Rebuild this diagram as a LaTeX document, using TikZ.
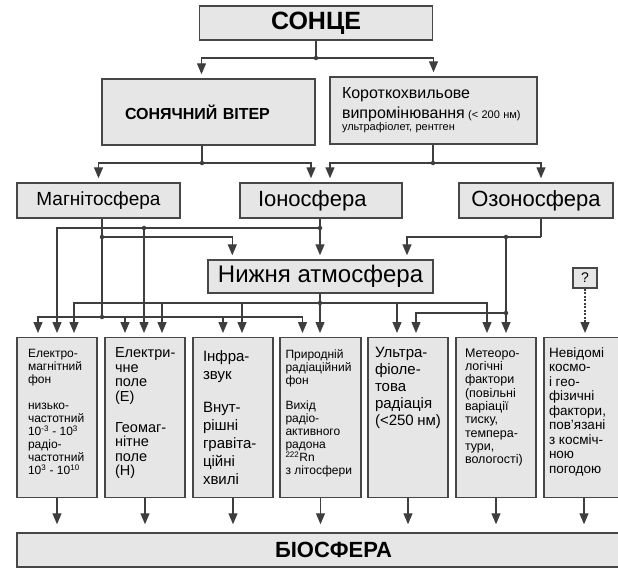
\documentclass[tikz,border=0pt]{standalone}
\usepackage{fontspec}
\setmainfont{Liberation Sans}
\usetikzlibrary{arrows.meta,positioning}
\definecolor{boxgray}{RGB}{230,230,230}
\definecolor{wiregray}{RGB}{62,62,62}
\newcommand{\coltext}[5]{\parbox[c][150pt][t]{#1}{\fontsize{#2}{#3}\selectfont\raggedright\hyphenpenalty=10000\exhyphenpenalty=10000\vspace*{#4}#5}}

\begin{document}
\begin{tikzpicture}[x=1pt,y=-1pt]
\tikzstyle{main}=[rectangle, draw=black!72, fill=boxgray, line width=1.4pt, inner sep=0pt]
\tikzstyle{col}=[main, minimum width=80pt, minimum height=160pt, anchor=north]
\tikzstyle{wire}=[draw=wiregray, line width=1.3pt]
\tikzstyle{arr}=[wire, -{Triangle[width=9pt,length=11pt]}, shorten >=4pt]
\tikzstyle{dot}=[circle, fill=wiregray, inner sep=0pt, minimum size=4.5pt]
\useasboundingbox (0,0) rectangle (618,569);

\node[main, minimum width=233pt, minimum height=34pt, font=\fontsize{25}{25}\selectfont\bfseries] (sun) at (316,23) {СОНЦЕ};
\node[main, minimum width=213pt, minimum height=66pt, text width=167pt, align=left, font=\fontsize{16}{16}\selectfont\bfseries] (wind) at (208.5,112) {СОНЯЧНИЙ ВІТЕР};
\node[main, minimum width=207pt, minimum height=67pt, text width=183pt, align=left] (wave) at (433.5,110.5)
    {\fontsize{16}{20}\selectfont Короткохвильове\\випромінювання {\fontsize{11}{11}\selectfont (< 200 нм)}\\{\fontsize{11}{15}\selectfont ультрафіолет, рентген}};

\node[main, minimum width=163pt, minimum height=35pt, font=\fontsize{19}{19}\selectfont] (mag) at (98.5,200.5) {Магнітосфера};
\node[main, minimum width=162pt, minimum height=35pt, text width=126pt, align=left, font=\fontsize{22}{22}\selectfont] (iono) at (321,200.5) {Іоносфера};
\node[main, minimum width=154pt, minimum height=35pt, font=\fontsize{22}{22}\selectfont] (ozono) at (536,200.5) {Озоносфера};
\node[main, minimum width=225pt, minimum height=33pt, font=\fontsize{24}{24}\selectfont] (lower) at (320.5,276.5) {Нижня атмосфера};
\node[main, minimum width=24pt, minimum height=20pt, line width=1.2pt, font=\fontsize{14}{14}\selectfont] (q) at (585,278) {?};

\node[col] (f1) at (57,337) {\coltext{58pt}{12}{13}{7pt}{Електро-\\магнітний\\фон\\[13pt]низько-\\частотний\\10\textsuperscript{-3} - 10\textsuperscript{3}\\радіо-\\частотний\\10\textsuperscript{3} - 10\textsuperscript{10}}};
\node[col] (f2) at (145,337) {\coltext{60pt}{14.5}{14.5}{5pt}{Електри-\\чне\\поле\\(E)\\[16.5pt]Геомаг-\\нітне\\поле\\(H)}};
\node[col] (f3) at (233,337) {\coltext{60pt}{15}{18}{8pt}{Інфра-\\звук\\[15pt]Внут-\\рішні\\гравіта-\\ційні\\хвилі}};
\node[col, minimum width=81pt] (f4) at (320.5,337) {\coltext{70pt}{12}{13}{7pt}{Природній\\радіаційний\\фон\\[12pt]Вихід\\радіо-\\активного\\радона\\\textsuperscript{222}Rn\\з літосфери}};
\node[col] (f5) at (408,337) {\coltext{66pt}{15}{17}{4pt}{Ультра-\\фіоле-\\това\\радіація\\(<250~нм)}};
\node[col] (f6) at (496,337) {\coltext{62pt}{12.5}{13.3}{6pt}{Метеоро-\\логічні\\фактори\\(повільні\\варіації\\тиску,\\темпера-\\тури,\\вологості)}};
\node[col] (f7) at (584,337) {\coltext{70pt}{13.5}{14.5}{5pt}{Невідомі\\космо-\\і гео-\\фізичні\\фактори,\\пов’язані\\з косміч-\\ною\\погодою}};

\node[main, minimum width=633pt, minimum height=34pt, font=\fontsize{22}{22}\selectfont\bfseries] (bio) at (333.5,550) {БІОСФЕРА};

% junctions
\coordinate (sj) at (316,58);
\coordinate (wj) at (202,163);
\coordinate (vj) at (433,163);
\coordinate (ij) at (320,228);
\coordinate (ij2) at (144,228);
\coordinate (mj) at (102,237);
\coordinate (mj2) at (102,317);
\coordinate (oj) at (541,237);
\coordinate (oj2) at (506,237);
\coordinate (oj3) at (506,313);
\coordinate (lj) at (320,303);
\coordinate (m2) at ([xshift=-20pt]f2.north);
\coordinate (m3) at ([xshift=-10pt]f3.north);
\coordinate (l2) at ([xshift=17pt]f2.north);
\coordinate (l3) at ([xshift=9pt]f3.north);
\coordinate (l5) at ([xshift=-11pt]f5.north);

\draw[wire] (sun) -- (sj);
\draw[arr] (sj) -| ([xshift=-7pt]wind.north);
\draw[arr] (sj) -| (wave);

\draw[wire] (wind.south -| wj) -- (wj);
\draw[arr] (wj) -| (mag);
\draw[arr] (wj) -| ([xshift=-10pt]iono.north);
\draw[wire] (wave.south -| vj) -- (vj);
\draw[arr] (vj) -| ([xshift=9pt]iono.north);
\draw[arr] (vj) -| ([xshift=5pt]ozono.north);

\draw[wire] (mag.south -| mj) -- (mj2);
\draw[arr] (mj) -| ([xshift=25pt]lower.north west);
\draw[arr] (mj2) -| ([xshift=-19pt]f1.north);
\draw[arr] (mj2) -| ([xshift=-18pt]f4.north);
\foreach \c in {m2,m3}
    \draw[arr] (\c |- mj2) -- (\c);

\draw[arr] (iono.south -| ij) -- (lower.north -| ij);
\draw[arr] (ij) -| (f1);
\draw[arr] (ij2) -- (f2.north -| ij2);

\draw[wire] (ozono.south -| oj) -- (oj);
\draw[arr] (oj) -| ([xshift=86.5pt]lower.north);
\draw[arr] (oj2) -- (f6.north -| oj2);
\draw[arr] (oj3) -| ([xshift=8pt]f5.north);

\draw[arr] (lower.south -| lj) -- (f4.north -| lj);
\draw[arr] (lj) -| ([xshift=17pt]f1.north);
\draw[arr] (lj) -| ([xshift=-9pt]f6.north);
\foreach \c in {l2,l3,l5}
    \draw[arr] (\c |- lj) -- (\c);

\draw[arr, dash pattern=on 2pt off 1.5pt] (q) -- (q |- f7.north);

\foreach \n in {1,...,7}
    \draw[arr, shorten >=8pt] (f\n) -- (f\n |- bio.north);

\foreach \c in {sj,wj,vj,ij,ij2,mj,mj2,oj2,oj3,lj}
    \node[dot] (d\c) at (\c) {};
\end{tikzpicture}
\end{document}
